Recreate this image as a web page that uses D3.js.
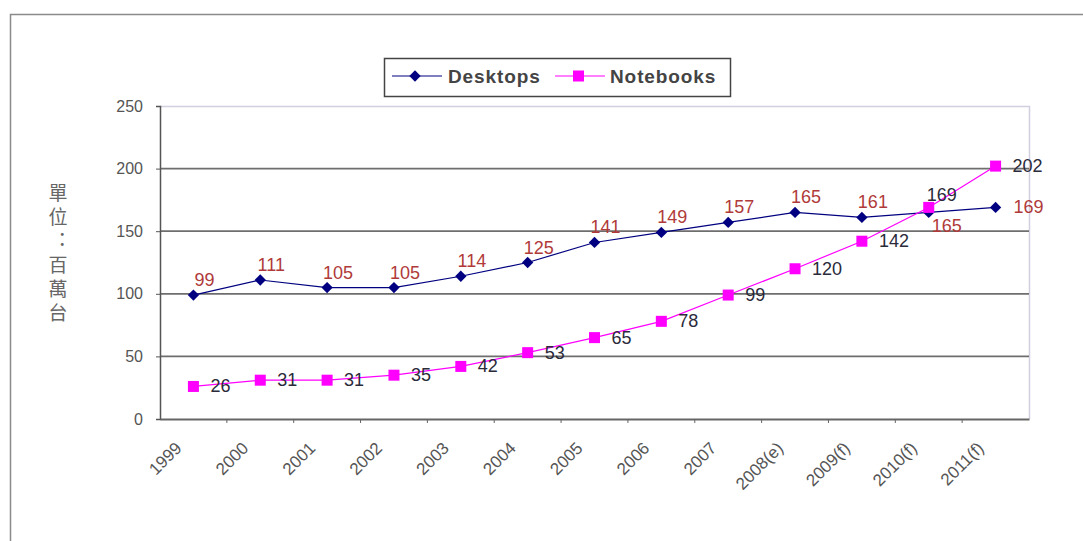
<!DOCTYPE html>
<html><head><meta charset="utf-8">
<script src="https://cdn.jsdelivr.net/npm/d3@7"></script>
<style>body{margin:0;background:#fff}svg{display:block;font-family:Arial,"Liberation Sans",sans-serif}</style>
</head><body><svg id="c" width="1083" height="541"></svg>
<script>
const categories = ["1999","2000","2001","2002","2003","2004","2005","2006","2007","2008(e)","2009(f)","2010(f)","2011(f)"];
const desktops = [99,111,105,105,114,125,141,149,157,165,161,165,169];
const notebooks = [26,31,31,35,42,53,65,78,99,120,142,169,202];
const yTicks = [0,50,100,150,200,250];
const seriesNames = ["Desktops","Notebooks"];
const yTitle = "單位：百萬台";

const svg = d3.select("#c");
const L = 160, R = 1029, T = 106, B = 419;
const x = d3.scaleBand().domain(categories).range([L, R]);
const y = d3.scaleLinear().domain([0, 250]).range([B, T]);
const cx = c => x(c) + x.bandwidth() / 2;
const diamond = d3.symbol(d3.symbolSquare, 64);

// outer frame
svg.append("path").attr("d", "M10.5,541 V14.5 H1083").attr("fill","none").attr("stroke","#8a8a8a").attr("stroke-width",1.5);

// plot border top/right light
svg.append("path").attr("d", `M${L},${T+0.5} H${R+0.5} V${B}`).attr("fill","none").attr("stroke","#d0d0e0").attr("stroke-width",1.5);

// gridlines
svg.append("g").selectAll("line").data(yTicks.filter(v => v > 0 && v < 250)).join("line")
  .attr("x1", L).attr("x2", R).attr("y1", d => y(d)).attr("y2", d => y(d))
  .attr("stroke", "#6e6e6e").attr("stroke-width", 1.8);

// y axis
const ya = svg.append("g").attr("transform", `translate(${L},0)`)
  .call(d3.axisLeft(y).tickValues(yTicks).tickSize(4).tickPadding(13));
ya.select(".domain").attr("stroke","#555").attr("stroke-width",1.5);
ya.selectAll(".tick line").attr("stroke","#555");
ya.selectAll("text").attr("font-size", 16).attr("fill", "#555").attr("font-family","Arial,'Liberation Sans',sans-serif");

// x axis
const xa = svg.append("g").attr("transform", `translate(0,${B})`)
  .call(d3.axisBottom(x).tickSize(0).tickFormat(""));
xa.select(".domain").attr("stroke","#666").attr("stroke-width",1.8);
svg.append("g").selectAll("line").data(categories.slice(1)).join("line")
  .attr("x1", d => x(d)).attr("x2", d => x(d)).attr("y1", B).attr("y2", B + 4)
  .attr("stroke", "#666");
svg.append("g").selectAll("text").data(categories).join("text")
  .attr("transform", d => `translate(${cx(d) - 15},${B + 26}) rotate(-45)`)
  .attr("text-anchor", "end").attr("dy", "0.35em")
  .attr("font-size", 17).attr("fill", "#555").text(d => d);

// y title (vertical writing)
svg.append("text").attr("x", 58).attr("y", 183)
  .attr("font-size", 19).attr("fill", "#666").attr("letter-spacing", 5)
  .attr("font-family", "'Noto Sans CJK TC',sans-serif")
  .style("writing-mode", "vertical-rl").style("text-orientation", "upright")
  .style("font-feature-settings", "'vert' 0")
  .text(yTitle);

const line = d3.line().x((d, i) => cx(categories[i])).y(d => y(d));

// Desktops
svg.append("path").datum(desktops).attr("d", line).attr("fill","none").attr("stroke","#000080").attr("stroke-width",1.2);
svg.append("g").selectAll("path").data(desktops).join("path")
  .attr("d", diamond)
  .attr("transform", (d, i) => `translate(${cx(categories[i])},${y(d)}) rotate(45)`).attr("fill", "#000080");
// Notebooks
svg.append("path").datum(notebooks).attr("d", line).attr("fill","none").attr("stroke","#FF00FF").attr("stroke-width",1.2);
svg.append("g").selectAll("rect").data(notebooks).join("rect")
  .attr("x", (d, i) => cx(categories[i]) - 5.5).attr("y", d => y(d) - 5.5)
  .attr("width", 11).attr("height", 11).attr("fill", "#FF00FF");

// labels
const n = categories.length;
svg.append("g").selectAll("text").data(desktops).join("text")
  .attr("x", (d, i) => i === n - 1 ? cx(categories[i]) + 18 : (i === n - 2 ? cx(categories[i]) + 18 : cx(categories[i]) + 11))
  .attr("y", (d, i) => i === n - 1 ? y(d) + 6 : (i === n - 2 ? y(d) + 20 : y(d) - 9))
  .attr("text-anchor", (d, i) => i === n - 1 ? "start" : "middle")
  .attr("font-size", 18).attr("fill", "#b03a3a").text(d => d);
svg.append("g").selectAll("text").data(notebooks).join("text")
  .attr("x", (d, i) => i === n - 2 ? cx(categories[i]) + 13 : cx(categories[i]) + 17)
  .attr("y", (d, i) => i === n - 2 ? y(d) - 6 : y(d) + 6)
  .attr("text-anchor", (d, i) => i === n - 2 ? "middle" : "start")
  .attr("font-size", 18).attr("fill", "#2a2a3a").text(d => d);

// legend
const lg = svg.append("g");
lg.append("rect").attr("x", 384.5).attr("y", 58.5).attr("width", 346).attr("height", 38)
  .attr("fill", "#fff").attr("stroke", "#444").attr("stroke-width", 1.5);
const legendItems = [
  {name: seriesNames[0], color: "#000080", x0: 392, tx: 448, sym: "d"},
  {name: seriesNames[1], color: "#FF00FF", x0: 555, tx: 610, sym: "s"}
];
legendItems.forEach(it => {
  lg.append("line").attr("x1", it.x0).attr("x2", it.x0 + 50).attr("y1", 76).attr("y2", 76)
    .attr("stroke", it.color).attr("stroke-width", 1.2);
  if (it.sym === "d") lg.append("path").attr("d", diamond).attr("transform", `translate(${it.x0 + 23},76) rotate(45)`).attr("fill", it.color);
  else lg.append("rect").attr("x", it.x0 + 18).attr("y", 70.5).attr("width", 11).attr("height", 11).attr("fill", it.color);
  lg.append("text").attr("x", it.tx).attr("y", 83).attr("font-size", 19).attr("font-weight", "bold")
    .attr("letter-spacing", 0.9).attr("fill", "#444").text(it.name);
});
</script></body></html>
